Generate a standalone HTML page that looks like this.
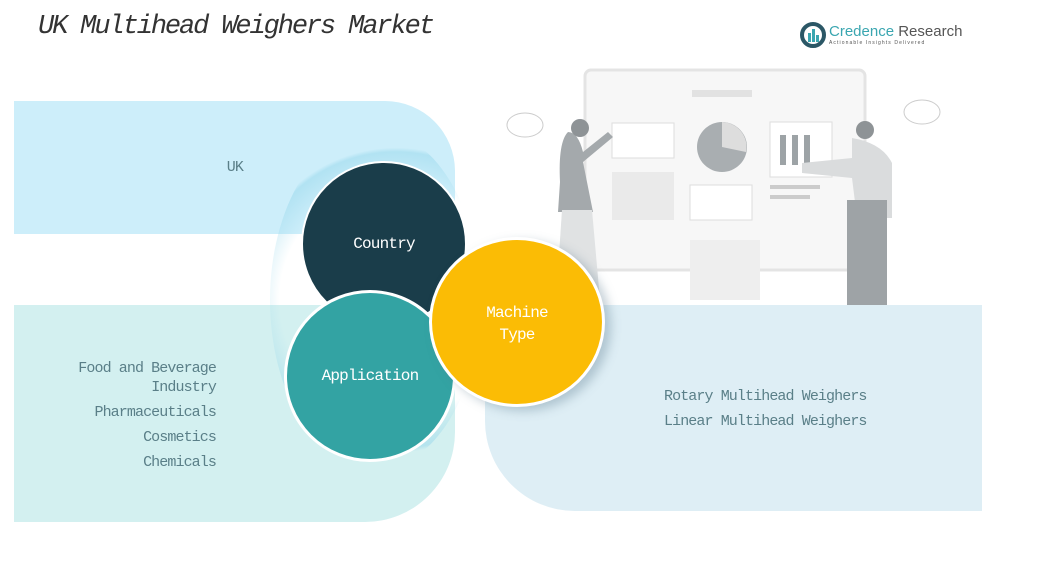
<!DOCTYPE html>
<html><head><meta charset="utf-8"><style>
body{margin:0;width:1053px;height:566px;background:#fff;position:relative;overflow:hidden;font-family:"Liberation Mono",monospace}
.a{position:absolute}
.t{color:#5a7f88;font-size:15px;text-align:right;letter-spacing:-0.9px}
</style></head><body>
<div class="a" style="left:38px;top:12px;font-size:27px;font-style:italic;color:#333;letter-spacing:-2.1px">UK Multihead Weighers Market</div>
<svg class="a" style="left:800px;top:22px" width="28" height="26"><circle cx="13" cy="13" r="11" fill="none" stroke="#2b5766" stroke-width="4"/><rect x="8" y="11" width="3" height="9" fill="#3aa6b0"/><rect x="12" y="7" width="3" height="13" fill="#3aa6b0"/><rect x="16" y="13" width="3" height="7" fill="#3aa6b0"/></svg>
<div class="a" style="left:829px;top:23px;font-family:'Liberation Sans',sans-serif;font-size:15px;color:#3aa6b0">Credence <span style="color:#555">Research</span></div>
<div class="a" style="left:829px;top:40px;font-family:'Liberation Sans',sans-serif;font-size:5px;color:#555;letter-spacing:1.1px">Actionable Insights Delivered</div>

<svg class="a" style="left:500px;top:60px" width="490" height="250">
<rect x="85" y="10" width="280" height="200" rx="6" fill="#f7f7f7" stroke="#e4e4e4" stroke-width="3"/>
<rect x="190" y="180" width="70" height="60" fill="#eee"/>
<rect x="192" y="30" width="60" height="7" fill="#e2e2e2"/>
<rect x="112" y="63" width="62" height="35" fill="#fff" stroke="#ddd"/>
<circle cx="222" cy="87" r="25" fill="#a9aeb1"/><path d="M222 87 L222 62 A25 25 0 0 1 246 92Z" fill="#ddd"/>
<rect x="270" y="62" width="62" height="55" fill="#fff" stroke="#ddd"/>
<rect x="280" y="75" width="6" height="30" fill="#9da3a6"/><rect x="292" y="75" width="6" height="30" fill="#9da3a6"/><rect x="304" y="75" width="6" height="30" fill="#9da3a6"/>
<rect x="112" y="112" width="62" height="48" fill="#eaeaea"/>
<rect x="190" y="125" width="62" height="35" fill="#fff" stroke="#ddd"/>
<rect x="270" y="125" width="50" height="4" fill="#ccc"/><rect x="270" y="135" width="40" height="4" fill="#ccc"/>
<path d="M68 72 q-10 10 -8 50 l-2 30 l35 0 l-10 -50 l30 -25 l-5 -5 l-25 20 q-5 -20 -15 -20z" fill="#a4a9ac"/>
<path d="M62 150 l-4 60 l28 30 l14 0 l-8 -90z" fill="#e0e2e3"/>
<circle cx="80" cy="68" r="9" fill="#8e9396"/>
<path d="M352 78 q30 5 40 25 l0 55 l-35 0 l-5 -40 l-50 -5 l0 -10 l50 -5z" fill="#dadcdd"/>
<rect x="347" y="140" width="40" height="105" fill="#9ea3a6"/>
<circle cx="365" cy="70" r="9" fill="#8e9396"/>
<ellipse cx="25" cy="65" rx="18" ry="12" fill="#fff" stroke="#ccc"/>
<ellipse cx="422" cy="52" rx="18" ry="12" fill="#fff" stroke="#ccc"/>
</svg>

<div class="a" style="left:14px;top:101px;width:441px;height:133px;background:#cdeefa;border-radius:0 70px 0 0"></div>
<div class="a" style="left:14px;top:305px;width:441px;height:217px;background:#d3f0f0;border-radius:0 0 90px 0"></div>
<div class="a" style="left:485px;top:305px;width:497px;height:206px;background:#deeef5;border-radius:0 0 0 90px"></div>
<div class="a" style="left:270px;top:130px;width:210px;height:340px;border-radius:50%;background:radial-gradient(circle at 60% 50%,rgba(255,255,255,0) 55%,rgba(150,215,235,.5) 70%,rgba(255,255,255,0) 72%)"></div>

<div class="a t" style="left:200px;top:159px;width:43px">UK</div>
<div class="a t" style="left:40px;top:359px;width:176px;line-height:19px">Food and Beverage Industry</div>
<div class="a t" style="left:40px;top:404px;width:176px">Pharmaceuticals</div>
<div class="a t" style="left:40px;top:429px;width:176px">Cosmetics</div>
<div class="a t" style="left:40px;top:454px;width:176px">Chemicals</div>
<div class="a t" style="left:664px;top:388px;text-align:left">Rotary Multihead Weighers</div>
<div class="a t" style="left:664px;top:413px;text-align:left">Linear Multihead Weighers</div>

<div class="a" style="left:301px;top:161px;width:166px;height:166px;border-radius:50%;background:#1a3d4a;border:2px solid #fff;box-sizing:border-box"></div>
<div class="a" style="left:284px;top:290px;width:172px;height:172px;border-radius:50%;background:#33a3a3;border:3px solid #fff;box-sizing:border-box"></div>
<div class="a" style="left:429px;top:237px;width:176px;height:170px;border-radius:50%;background:#fbbc05;border:3px solid #fff;box-sizing:border-box;box-shadow:6px 4px 10px rgba(90,120,140,.35)"></div>
<div class="a" style="left:301px;top:235px;width:166px;text-align:center;color:#fff;font-size:16px;letter-spacing:-0.8px">Country</div>
<div class="a" style="left:284px;top:367px;width:172px;text-align:center;color:#fff;font-size:16px;letter-spacing:-0.8px">Application</div>
<div class="a" style="left:429px;top:302px;width:176px;text-align:center;color:#fff;font-size:16px;line-height:22px;letter-spacing:-0.8px">Machine<br>Type</div>
</body></html>
